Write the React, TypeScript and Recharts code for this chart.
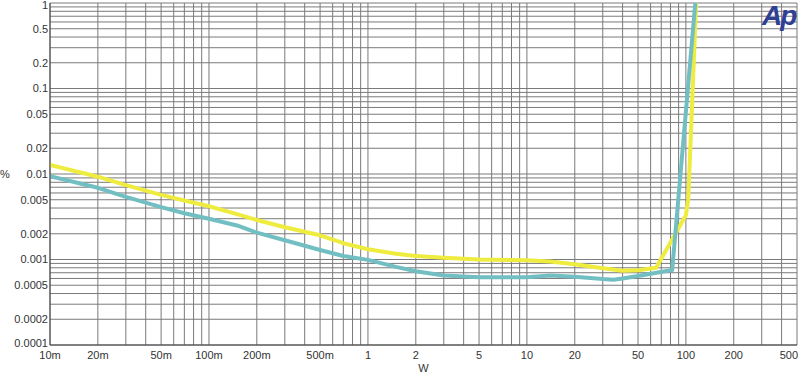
import React from 'react';
import { LineChart, Line, XAxis, YAxis, CartesianGrid } from 'recharts';

// THD+N vs output power, log-log
const xTicks = [0.01, 0.02, 0.05, 0.1, 0.2, 0.5, 1, 2, 5, 10, 20, 50, 100, 200, 500];
const xTickLabels = ['10m', '20m', '50m', '100m', '200m', '500m', '1', '2', '5', '10', '20', '50', '100', '200', '500'];
const yTicks = [0.0001, 0.0002, 0.0005, 0.001, 0.002, 0.005, 0.01, 0.02, 0.05, 0.1, 0.2, 0.5, 1];
const yTickLabels = ['0.0001', '0.0002', '0.0005', '0.001', '0.002', '0.005', '0.01', '0.02', '0.05', '0.1', '0.2', '0.5', '1'];

const yellowX = [0.01, 0.02, 0.03, 0.05, 0.07, 0.1, 0.15, 0.2, 0.3, 0.5, 0.7, 1, 1.5, 2, 3, 5, 10, 14, 20, 30, 40, 50, 65, 100, 103.5, 116];
const yellowY = [0.0128, 0.0093, 0.0074, 0.0057, 0.0049, 0.0042, 0.0034, 0.0029, 0.00238, 0.00192, 0.00155, 0.00132, 0.00117, 0.0011, 0.00105, 0.001, 0.00098, 0.00095, 0.00088, 0.00079, 0.00074, 0.00075, 0.0008, 0.0033, 0.005, 1];

const tealX = [0.01, 0.02, 0.03, 0.05, 0.07, 0.1, 0.15, 0.2, 0.3, 0.5, 0.7, 1, 1.5, 2, 3, 5, 10, 14, 20, 30, 35, 40, 50, 82, 114.6];
const tealY = [0.0094, 0.0069, 0.0054, 0.0041, 0.00347, 0.0030, 0.0025, 0.00206, 0.00168, 0.00129, 0.0011, 0.00099, 0.00082, 0.00073, 0.00065, 0.00062, 0.00062, 0.00065, 0.00063, 0.00059, 0.00058, 0.0006, 0.00064, 0.000754, 1];

// grid: every 1..9 step inside each decade
const gridSteps = [1, 2, 3, 4, 5, 6, 7, 8, 9];
const xDecades = [0.01, 0.1, 1, 10, 100];
const yDecades = [0.0001, 0.001, 0.01, 0.1, 1];

const xGrid = xDecades.flatMap((d) => gridSteps.map((s) => +(d * s).toPrecision(3))).filter((v) => v <= 500);
const yGrid = yDecades.flatMap((d) => gridSteps.map((s) => +(d * s).toPrecision(3))).filter((v) => v <= 1);

const yellowData = yellowX.map((x, i) => ({ x, y: yellowY[i] }));
const tealData = tealX.map((x, i) => ({ x, y: tealY[i] }));

const FONT = '"Liberation Sans", Arial, sans-serif';

function XTick(props: any) {
  const { x, y, payload } = props;
  const i = xTicks.indexOf(payload.value);
  const last = payload.value === 500;
  return (
    <text
      x={last ? x + 1 : x}
      y={y}
      dy="0.71em"
      textAnchor={last ? 'end' : 'middle'}
      fontSize={11}
      fontFamily={FONT}
      fill="#333"
    >
      {i >= 0 ? xTickLabels[i] : payload.value}
    </text>
  );
}

function YTick(props: any) {
  const { x, y, payload } = props;
  const i = yTicks.indexOf(payload.value);
  // nudge the end labels so they stay clear of the edge / x labels
  let shift = 0;
  if (payload.value === 1) shift = 2;
  if (payload.value === 0.0001) shift = -2;
  return (
    <text
      x={x}
      y={y + shift}
      dy="0.355em"
      textAnchor="end"
      fontSize={11}
      fontFamily={FONT}
      fill="#333"
    >
      {i >= 0 ? yTickLabels[i] : String(payload.value)}
    </text>
  );
}

export default function App() {
  return (
    <div style={{ position: 'absolute', left: 0, top: 0, width: 800, height: 373, background: '#fff' }}>
      <LineChart width={800} height={373} margin={{ top: 3, right: 3, bottom: 0, left: 0 }}>
        <CartesianGrid
          stroke="#7a7a7a"
          strokeWidth={1}
          horizontalValues={yGrid}
          verticalValues={xGrid}
        />
        <XAxis
          type="number"
          dataKey="x"
          scale="log"
          domain={[0.01, 500]}
          ticks={xTicks}
          interval={0}
          allowDataOverflow
          height={28}
          tickSize={0}
          tickMargin={6}
          tick={<XTick />}
          axisLine={{ stroke: '#444' }}
          label={{ value: 'W', position: 'insideBottom', offset: 1, fontSize: 11, fontFamily: FONT, fill: '#333' }}
        />
        <YAxis
          type="number"
          dataKey="y"
          scale="log"
          domain={[0.0001, 1]}
          ticks={yTicks}
          interval={0}
          allowDataOverflow
          width={50}
          tickSize={0}
          tickMargin={2}
          tick={<YTick />}
          axisLine={{ stroke: '#444' }}
          label={{ value: '%', position: 'insideLeft', offset: 0, fontSize: 11, fontFamily: FONT, fill: '#333' }}
        />
        <Line
          data={yellowData}
          dataKey="y"
          type="linear"
          stroke="#eeec3e"
          strokeWidth={4}
          strokeLinejoin="round"
          dot={false}
          isAnimationActive={false}
        />
        <Line
          data={tealData}
          dataKey="y"
          type="linear"
          stroke="#72bfc3"
          strokeWidth={4}
          strokeLinejoin="round"
          dot={false}
          isAnimationActive={false}
        />
      </LineChart>
      <div
        style={{
          position: 'absolute',
          left: 762,
          top: 0,
          fontFamily: FONT,
          fontWeight: 'bold',
          fontStyle: 'italic',
          fontSize: 28,
          color: '#2f3f93',
          letterSpacing: -2,
        }}
      >
        Ap
      </div>
    </div>
  );
}
